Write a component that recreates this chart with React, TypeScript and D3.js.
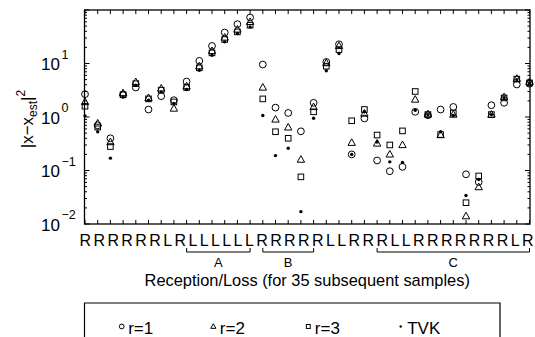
import * as d3 from "d3";

// squared error per sample (log scale)
const r1 = [2.67, 0.7, 0.4, 2.63, 3.56, 1.38, 2.45, 2.06, 4.6, 11.2, 21.3, 37.9, 54.3, 72.4, 9.57, 1.5, 1.19, 0.54, 1.84, 10.7, 22.9, 0.2, 0.94, 0.154, 0.097, 0.117, 1.25, 1.08, 1.38, 1.54, 0.085, 0.061, 1.66, 1.84, 4.05, 4.2];
const r2 = [1.91, 0.76, 0.34, 2.8, 4.5, 2.27, 3.41, 1.44, 3.76, 8.9, 17.2, 30.6, 43.2, 60, 3.56, 0.9, 0.64, 0.16, 1.54, 10.2, 21.3, 0.33, 1.16, 0.32, 0.2, 0.3, 2.12, 1.13, 0.46, 1.11, 0.014, 0.049, 1.11, 2.36, 5.2, 4.5];
const r3 = [1.59, 0.65, 0.28, 2.6, 4.2, 2.18, 3.17, 1.91, 3.56, 8.3, 15.8, 28.1, 39.0, 52, 2.18, 0.53, 0.4, 0.076, 1.25, 8.9, 18.2, 0.85, 1.38, 0.46, 0.3, 0.55, 3.0, 1.11, 0.47, 1.19, 0.025, 0.079, 1.11, 2.27, 5.1, 4.34];
const tvk = [1.05, 0.53, 0.17, 2.37, 3.9, 2.06, 2.95, 1.8, 3.26, 7.5, 14.3, 25.4, 36.3, 48, 1.07, 0.19, 0.26, 0.017, 0.95, 7.3, 15.4, 0.2, 1.25, 0.34, 0.145, 0.141, 1.34, 1.11, 0.53, 1.07, 0.034, 0.068, 1.11, 2.3, 5.0, 4.34];

const receptionLoss = "RRRRRRLRLLLLLLRRRRRLLRRRLLRRRRRRRLR".split("");
const groups = [
  { label: "A", from: 8, to: 13 },
  { label: "B", from: 14, to: 18 },
  { label: "C", from: 23, to: 35 },
];
const yTicks = [-2, -1, 0, 1];
const legendItems = [
  { key: "circle", label: "r=1" },
  { key: "triangle", label: "r=2" },
  { key: "square", label: "r=3" },
  { key: "dot", label: "TVK" },
];

const W = 535;
const H = 337;
const left = 84.5;
const right = 530;
const top = 10;
const bottom = 224;
const font = "'Liberation Sans', Arial, sans-serif";

function Marker({ kind, x, y, small = false }) {
  const k = small ? 0.7 : 1;
  if (kind === "circle")
    return <circle cx={x} cy={y} r={3.4 * k} fill="none" stroke="#000" strokeWidth={1} />;
  if (kind === "triangle") {
    const h = 6.6 * k;
    const w = 3.7 * k;
    const p = `M${x},${y - h * 0.6}L${x + w},${y + h * 0.4}L${x - w},${y + h * 0.4}Z`;
    return <path d={p} fill="none" stroke="#000" strokeWidth={1} />;
  }
  if (kind === "square") {
    const s = 5.6 * k;
    return <rect x={x - s / 2} y={y - s / 2} width={s} height={s} fill="none" stroke="#000" strokeWidth={1} />;
  }
  return <circle cx={x} cy={y} r={1.7 * k} fill="#000" />;
}

export default function App() {
  const n = r1.length;
  const x = d3.scaleLinear().domain([0, n - 1]).range([left + 0.5, right - 0.5]);
  const y = d3.scaleLog().domain([1e-2, 1e2]).range([bottom, top]);

  const series = [
    { kind: "circle", values: r1 },
    { kind: "triangle", values: r2 },
    { kind: "square", values: r3 },
    { kind: "dot", values: tvk },
  ];

  const minor = [];
  for (let e = -2; e < 2; e++) {
    for (let m = 2; m <= 9; m++) minor.push(m * Math.pow(10, e));
  }

  return (
    <svg
      width={W}
      height={H}
      style={{ position: "absolute", left: 0, top: 0, background: "#fff" }}
      fontFamily={font}
    >
      {/* axes box */}
      <rect x={left} y={top} width={right - left} height={bottom - top} fill="none" stroke="#000" strokeWidth={1.3} />

      {/* x ticks top and bottom */}
      {d3.range(n).map((i) => (
        <g key={"xt" + i}>
          <line x1={x(i)} x2={x(i)} y1={top} y2={top + 4} stroke="#000" />
          <line x1={x(i)} x2={x(i)} y1={bottom} y2={bottom - 4} stroke="#000" />
        </g>
      ))}

      {/* y ticks, major and minor, on both sides */}
      {yTicks.concat([2]).map((e) => (
        <g key={"ym" + e}>
          <line x1={left} x2={left + 5} y1={y(Math.pow(10, e))} y2={y(Math.pow(10, e))} stroke="#000" />
          <line x1={right} x2={right - 5} y1={y(Math.pow(10, e))} y2={y(Math.pow(10, e))} stroke="#000" />
        </g>
      ))}
      {minor.map((v, i) => (
        <g key={"yn" + i}>
          <line x1={left} x2={left + 2.5} y1={y(v)} y2={y(v)} stroke="#000" />
          <line x1={right} x2={right - 2.5} y1={y(v)} y2={y(v)} stroke="#000" />
        </g>
      ))}

      {/* y tick labels */}
      {yTicks.map((e) => (
        <g key={"yl" + e}>
          <text x={41} y={y(Math.pow(10, e)) + 6.5} fontSize={17}>
            10
          </text>
          <text x={61.5} y={y(Math.pow(10, e)) - 5} fontSize={12.5}>
            {e < 0 ? "\u2212" + Math.abs(e) : e}
          </text>
        </g>
      ))}

      {/* y axis label */}
      <text transform={`translate(33,${(top + bottom) / 2 + 2}) rotate(-90)`} fontSize={17} textAnchor="middle">
        |x{"\u2212"}x
        <tspan fontSize={12} dy={4}>
          est
        </tspan>
        <tspan dy={-4}>|</tspan>
        <tspan fontSize={12} dy={-8}>
          2
        </tspan>
      </text>

      {/* data */}
      {series.map((s) =>
        s.values.map((v, i) => <Marker key={s.kind + i} kind={s.kind} x={x(i)} y={y(v)} />)
      )}

      {/* reception / loss letters */}
      <text x={79.5} y={246} fontSize={16} textLength={454} lengthAdjust="spacing">
        {receptionLoss.join("")}
      </text>

      {/* brackets */}
      {groups.map((g) => (
        <g key={g.label}>
          <path
            d={`M${x(g.from)},248V252H${x(g.to)}V248`}
            fill="none"
            stroke="#000"
            strokeWidth={1}
          />
          <text x={(x(g.from) + x(g.to)) / 2} y={266.5} fontSize={13} textAnchor="middle">
            {g.label}
          </text>
        </g>
      ))}

      <text x={(left + right) / 2} y={286} fontSize={16.4} textAnchor="middle">
        Reception/Loss (for 35 subsequent samples)
      </text>

      {/* legend */}
      <path d={`M${left},${H + 2}V303H500V${H + 2}`} fill="none" stroke="#000" strokeWidth={1.2} />
      {legendItems.map((it, i) => {
        const mx = [121.7, 213.3, 308.3, 400.7][i];
        return (
          <g key={it.key}>
            <Marker kind={it.key} x={mx} y={326.5} small />
            <text x={mx + 6.5} y={333.5} fontSize={17}>
              {it.label}
            </text>
          </g>
        );
      })}
    </svg>
  );
}
